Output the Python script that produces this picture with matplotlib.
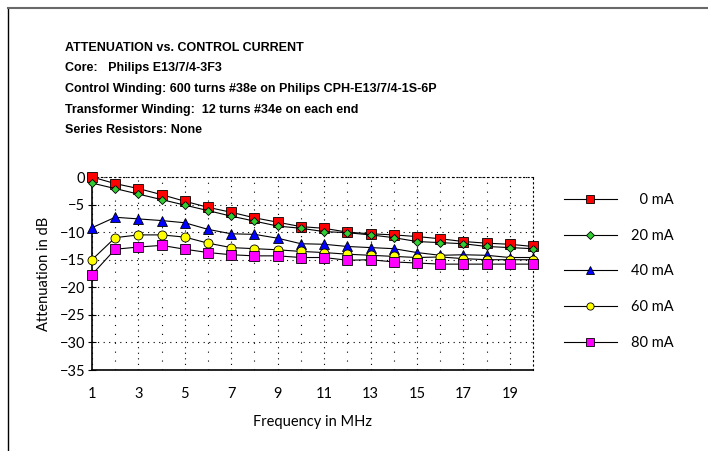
import matplotlib
matplotlib.use('Agg')
import matplotlib.pyplot as plt
from matplotlib.lines import Line2D
from matplotlib.ticker import MultipleLocator

plt.rcParams['font.family'] = ['Lato', 'DejaVu Sans']

# dane
freq = list(range(1, 21))
ma0 = [0.0, -1.2, -2.1, -3.2, -4.4, -5.5, -6.4, -7.4, -8.2, -9.0,
       -9.3, -10.0, -10.3, -10.5, -10.8, -11.2, -11.7, -12.0, -12.2, -12.6]
ma20 = [-1.1, -2.1, -3.1, -4.1, -5.1, -6.1, -7.1, -8.0, -8.9, -9.3,
        -9.9, -10.1, -10.5, -11.0, -11.7, -11.9, -12.1, -12.6, -12.8, -13.0]
ma40 = [-9.2, -7.3, -7.6, -7.9, -8.3, -9.5, -10.3, -10.4, -11.1, -12.1,
        -12.2, -12.6, -12.8, -13.0, -13.7, -14.2, -14.1, -14.2, -14.6, -14.6]
ma60 = [-15.0, -11.0, -10.5, -10.5, -10.9, -12.0, -12.8, -13.0, -13.2, -13.5,
        -13.7, -14.0, -14.2, -14.4, -14.6, -14.5, -14.8, -15.0, -15.0, -15.0]
ma80 = [-17.7, -13.1, -12.7, -12.4, -13.1, -13.7, -14.1, -14.3, -14.3, -14.6,
        -14.6, -15.1, -15.0, -15.4, -15.6, -15.8, -15.8, -15.8, -15.8, -15.8]
labels = ['\u20070 mA', '20 mA', '40 mA', '60 mA', '80 mA']

title_lines = [
    'ATTENUATION vs. CONTROL CURRENT',
    'Core:   Philips E13/7/4-3F3',
    'Control Winding: 600 turns #38e on Philips CPH-E13/7/4-1S-6P',
    'Transformer Winding:  12 turns #34e on each end',
    'Series Resistors: None',
]

fig = plt.figure(figsize=(7.08, 4.51), dpi=100)
ax = fig.add_axes([92/708, 1-370/451, (533-92)/708, (370-177)/451])

styles = [('s', 'red', 7), ('D', 'limegreen', 4.5), ('^', 'blue', 6.5),
          ('o', 'yellow', 6.5), ('s', 'magenta', 6.5)]
series = [ma0, ma20, ma40, ma60, ma80]
for vals, (m, c, ms), lab in zip(series, styles, labels):
    ax.plot(freq, vals, color='black', lw=0.8, marker=m, markerfacecolor=c,
            markeredgecolor='black', markeredgewidth=0.6, markersize=ms,
            label=lab, clip_on=False, zorder=3)

ax.set_xlim(1, 20)
ax.set_ylim(-35, 0)
ax.xaxis.set_major_locator(MultipleLocator(2, offset=1))
ax.xaxis.set_minor_locator(MultipleLocator(1))
ax.yaxis.set_major_locator(MultipleLocator(5))
ax.grid(which='major', axis='both', color='black', linestyle=(0, (1, 4)), lw=0.8)
ax.grid(which='minor', axis='x', color='black', linestyle=(0, (1, 7)), lw=0.8)
ax.tick_params(axis='x', which='both', length=0, labelsize=10.5, pad=12)
ax.tick_params(axis='y', which='major', direction='inout', length=6,
               labelsize=10.5, pad=2)
for s in ['top', 'right']:
    ax.spines[s].set_linestyle((0, (1, 3)))
    ax.spines[s].set_linewidth(0.8)
ax.spines['left'].set_linewidth(1.2)
ax.spines['bottom'].set_linewidth(1.2)

ax.set_xlabel('Frequency in MHz', fontsize=10.5, labelpad=10)
ax.set_ylabel('Attenuation in dB', fontsize=10.5, labelpad=6)

ax.legend(loc='upper left', bbox_to_anchor=(564/708, 1-193/451),
          bbox_transform=fig.transFigure, frameon=False, fontsize=10.5,
          borderpad=0, borderaxespad=0, markerscale=0.8,
          handlelength=3.6, labelspacing=1.49, handletextpad=1.0)

for i, t in enumerate(title_lines):
    fig.text(65/708, 1-(48+20.5*i)/451, t, fontsize=9, fontweight='bold',
             family=['Liberation Sans', 'DejaVu Sans'], va='center')

# ramka strony
fig.add_artist(Line2D([8/708, 8/708], [0, 1-8/451], color='black', lw=1.0))
fig.add_artist(Line2D([8/708, 1], [1-8/451, 1-8/451], color='dimgray', lw=1.5))

fig.savefig('out.png', dpi=100)
